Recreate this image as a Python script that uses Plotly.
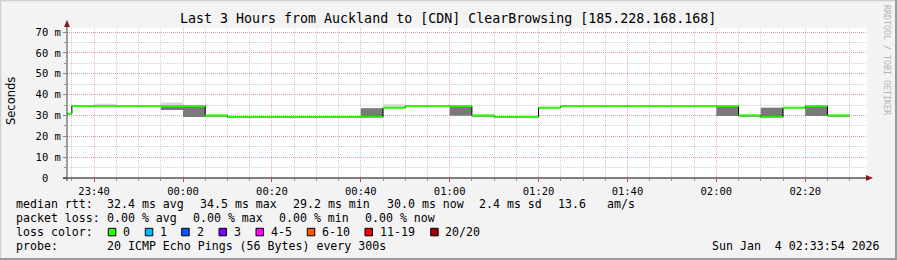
import plotly.graph_objects as go
import pandas as pd

# ---------------- data ----------------
title_text = "Last 3 Hours from Auckland to [CDN] ClearBrowsing [185.228.168.168]"
view_start = "2026-01-03 23:33:54"
view_end = "2026-01-04 02:33:54"
first_interval = "2026-01-03 23:30:00"
major_tick0 = "2026-01-03 23:40:00"
minor_tick0 = "2026-01-03 23:35:00"
step_minutes = 5

# median rtt per 5-minute interval (ms)
median_rtt = [30.8, 34.5, 34.5, 34.5, 34.5, 34.5, 34.5, 30.0, 29.2, 29.2,
              29.2, 29.2, 29.2, 29.2, 29.2, 33.7, 34.5, 34.5, 34.5, 30.0,
              29.2, 29.2, 33.7, 34.5, 34.5, 34.5, 34.5, 34.5, 34.5, 34.5,
              34.5, 30.0, 29.2, 33.7, 34.5, 30.0]
# smoke: ping spread (ms)
ping_min = [30.8, 34.5, 34.5, 34.5, 34.5, 32.6, 29.2, 29.4, 29.2, 29.2,
            29.2, 29.2, 29.2, 29.2, 29.2, 33.7, 34.5, 34.5, 29.9, 29.4,
            29.2, 29.2, 33.7, 34.5, 34.5, 34.5, 34.5, 34.5, 34.5, 34.5,
            29.7, 29.4, 29.2, 33.7, 29.7, 29.4]
ping_q25 = [30.8, 34.5, 34.5, 34.5, 34.5, 32.6, 29.2, 29.4, 29.2, 29.2,
            29.2, 29.2, 29.2, 29.2, 29.2, 33.7, 34.5, 34.5, 29.9, 29.4,
            29.2, 29.2, 33.7, 34.5, 34.5, 34.5, 34.5, 34.5, 34.5, 34.5,
            29.7, 29.4, 29.2, 33.7, 29.7, 29.4]
ping_q75 = [30.8, 34.5, 34.5, 34.5, 34.5, 34.5, 34.5, 30.0, 29.2, 29.2,
            29.2, 29.2, 29.2, 29.2, 33.5, 33.7, 34.5, 34.5, 34.5, 30.0,
            29.2, 29.2, 33.7, 34.5, 34.5, 34.5, 34.5, 34.5, 34.5, 34.5,
            34.5, 30.0, 33.7, 33.7, 34.5, 30.0]
ping_max = [30.8, 34.5, 35.6, 34.5, 34.5, 36.2, 34.5, 30.0, 29.2, 29.2,
            29.2, 29.2, 29.9, 29.9, 33.6, 35.4, 34.5, 34.5, 34.5, 30.0,
            29.2, 30.3, 33.7, 34.5, 34.5, 34.5, 34.5, 34.5, 34.5, 34.5,
            34.5, 30.0, 33.7, 33.7, 34.5, 30.0]

y_tick_values = [0, 10, 20, 30, 40, 50, 60, 70]
y_tick_labels = ["0\u00a0\u00a0", "10 m", "20 m", "30 m", "40 m", "50 m", "60 m", "70 m"]
y_max = 71.92

loss_labels = ["0", "1", "2", "3", "4-5", "6-10", "11-19", "20/20"]
loss_colors = ["#26ff00", "#00b8ff", "#0059ff", "#7e00ff", "#ff00ff", "#ff5500", "#ff0000", "#a10000"]

stats_rtt = ["32.4 ms avg", "34.5 ms max", "29.2 ms min", "30.0 ms now", "2.4 ms sd", "13.6", "am/s"]
stats_loss = ["0.00 % avg", "0.00 % max", "0.00 % min", "0.00 % now"]
probe_text = "20 ICMP Echo Pings (56 Bytes) every 300s"
date_text = "Sun Jan  4 02:33:54 2026"
credit_text = "RRDTOOL / TOBI OETIKER"

# ---------------- layout geometry ----------------
FW, FH = 897, 260
PL, PR, PT, PB = 67, 867, 28, 178
PW, PH = PR - PL, PB - PT
MONO = "DejaVu Sans Mono"


def fx(p):
    return (p - PL) / PW


def fy(p):
    return (PB - p) / PH


starts = pd.date_range(first_interval, periods=len(median_rtt), freq=f"{step_minutes}min")
ends = starts + pd.Timedelta(minutes=step_minutes)
xs = list(starts) + [ends[-1]]


def ext(v):
    return list(v) + [v[-1]]


fig = go.Figure()


def band(lo, hi, color):
    fig.add_trace(go.Scatter(x=xs, y=ext(lo), mode="lines", line=dict(width=0, shape="hv"),
                             hoverinfo="skip", showlegend=False))
    fig.add_trace(go.Scatter(x=xs, y=ext(hi), mode="lines", line=dict(width=0, shape="hv"),
                             fill="tonexty", fillcolor=color, hoverinfo="skip", showlegend=False))


band(ping_min, ping_max, "#d8d8d8")
band(ping_q25, ping_q75, "#7a7a7a")

# black median step line
fig.add_trace(go.Scatter(x=xs, y=ext(median_rtt), mode="lines",
                         line=dict(width=1, color="#000000", shape="hv"),
                         hoverinfo="skip", showlegend=False))
# green loss-coloured median segments
gx, gy = [], []
for s, e, m in zip(starts, ends, median_rtt):
    gx += [s, e, None]
    gy += [m, m, None]
fig.add_trace(go.Scatter(x=gx, y=gy, mode="lines", line=dict(width=2, color=loss_colors[0]),
                         hoverinfo="skip", showlegend=False))

shapes = []
ann = []

# frame
shapes.append(dict(type="line", xref="paper", yref="paper", x0=fx(0), x1=fx(FW), y0=fy(0.5), y1=fy(0.5),
                   line=dict(color="#cfcfcf", width=1.5)))
shapes.append(dict(type="line", xref="paper", yref="paper", x0=fx(0.5), x1=fx(0.5), y0=fy(0), y1=fy(FH),
                   line=dict(color="#cfcfcf", width=1.5)))
shapes.append(dict(type="line", xref="paper", yref="paper", x0=fx(0), x1=fx(FW), y0=fy(FH - 1), y1=fy(FH - 1),
                   line=dict(color="#9a9a9a", width=2)))
shapes.append(dict(type="line", xref="paper", yref="paper", x0=fx(FW - 1), x1=fx(FW - 1), y0=fy(0), y1=fy(FH),
                   line=dict(color="#9a9a9a", width=2)))

# axis lines with arrows
shapes.append(dict(type="line", xref="paper", yref="paper", x0=fx(63), x1=fx(869), y0=0, y1=0,
                   line=dict(color="#000000", width=1)))
shapes.append(dict(type="line", xref="paper", yref="paper", x0=0, x1=0, y0=fy(PB + 3), y1=fy(24),
                   line=dict(color="#404040", width=1)))
shapes.append(dict(type="path", xref="paper", yref="paper",
                   path=f"M {fx(866)} {fy(175)} L {fx(873)} {fy(178)} L {fx(866)} {fy(181)} Z",
                   fillcolor="#8b1a1a", line=dict(width=0)))
shapes.append(dict(type="path", xref="paper", yref="paper",
                   path=f"M {fx(64)} {fy(27)} L {fx(67)} {fy(20)} L {fx(70)} {fy(27)} Z",
                   fillcolor="#8b1a1a", line=dict(width=0)))

# title, y label, credit
ann.append(dict(text=title_text, x=fx(447.5), y=fy(19), xref="paper", yref="paper", showarrow=False,
                xanchor="center", yanchor="middle", font=dict(family=MONO, size=13.3, color="#000")))
ann.append(dict(text="Seconds", x=fx(10.5), y=fy(101.5), xref="paper", yref="paper", showarrow=False,
                textangle=-90, xanchor="center", yanchor="middle",
                font=dict(family="DejaVu Sans", size=11.5, color="#000")))
ann.append(dict(text=credit_text, x=fx(887), y=fy(60), xref="paper", yref="paper", showarrow=False,
                textangle=90, xanchor="center", yanchor="middle",
                font=dict(family=MONO, size=8.3, color="#b4b4b4")))

# legend text
TXT = dict(family=MONO, size=11.6, color="#000")


def text_at(t, xp, yp, anchor="left"):
    ann.append(dict(text=t.replace(" ", "\u00a0"), x=fx(xp - 2 if anchor == "left" else xp + 2), y=fy(yp),
                    xref="paper", yref="paper", showarrow=False, xanchor=anchor, yanchor="middle", font=TXT))


row_y = [204.3, 218.3, 232.3, 246.3]
text_at("median rtt:", 16, row_y[0])
for t, xp in zip(stats_rtt, [107.3, 200, 293.3, 386.7, 479.3, 558.3, 606.7]):
    text_at(t, xp, row_y[0])
text_at("packet loss:", 16, row_y[1])
for t, xp in zip(stats_loss, [107.3, 193.3, 279.3, 365.3]):
    text_at(t, xp, row_y[1])
text_at("loss color:", 16, row_y[2])
box_x = [108.3, 145.3, 181.7, 219, 256, 307.3, 365, 430.7]
txt_x = [123.3, 160, 197.3, 234, 270.7, 322, 380, 445]
for lab, col, bx, tx in zip(loss_labels, loss_colors, box_x, txt_x):
    shapes.append(dict(type="rect", xref="paper", yref="paper", x0=fx(bx), x1=fx(bx + 7.5),
                       y0=fy(row_y[2] - 4), y1=fy(row_y[2] + 3.5), fillcolor=col,
                       line=dict(color="#000000", width=1)))
    text_at(lab, tx, row_y[2])
text_at("probe:", 16, row_y[3])
text_at(probe_text, 107.3, row_y[3])
text_at(date_text, 880, row_y[3], anchor="right")

fig.update_layout(
    width=FW, height=FH, autosize=False,
    margin=dict(l=PL, r=FW - PR, t=PT, b=FH - PB, pad=0),
    paper_bgcolor="#f3f3f3", plot_bgcolor="#ffffff",
    shapes=shapes, annotations=ann, showlegend=False,
    xaxis=dict(type="date", range=[view_start, view_end], tick0=major_tick0, dtick=20 * 60 * 1000,
               tickformat="%H:%M", showgrid=True, gridcolor="rgba(240,120,120,0.6)", griddash="1px,1px",
               gridwidth=1, ticks="outside", ticklen=3, tickcolor="#e04040", showline=False, zeroline=False,
               tickfont=dict(family=MONO, size=10.5, color="#000"), automargin=False,
               minor=dict(tick0=minor_tick0, dtick=step_minutes * 60 * 1000, showgrid=True,
                          gridcolor="rgba(150,150,150,0.45)", griddash="1px,1px", gridwidth=1,
                          ticks="outside", ticklen=2, tickcolor="#999")),
    yaxis=dict(range=[0, y_max], tickvals=y_tick_values, ticktext=y_tick_labels, showgrid=True,
               gridcolor="rgba(240,120,120,0.6)", griddash="1px,1px", gridwidth=1, ticks="outside",
               ticklen=3, tickcolor="#888", showline=False, zeroline=False,
               tickfont=dict(family=MONO, size=10.5, color="#000"), automargin=False,
               minor=dict(dtick=5, showgrid=True, gridcolor="rgba(150,150,150,0.45)", griddash="1px,1px",
                          gridwidth=1, ticks="outside", ticklen=2, tickcolor="#999")),
)

fig.write_html("out.html")
